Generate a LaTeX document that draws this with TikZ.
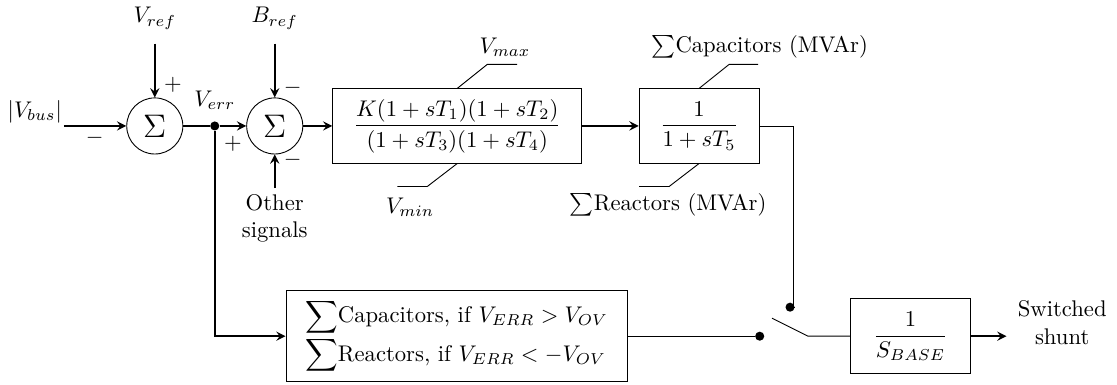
\documentclass[tikz,border=0pt]{standalone}
\usepackage{amsmath,amssymb}
\usepackage{tikz}
\usetikzlibrary{arrows.meta,positioning,calc}

\begin{document}
\begin{tikzpicture}[
    sumnode/.style={
        draw=black,
        circle,
        minimum size=0.87cm,
        inner sep=0pt,
        font=\Large,
    },
    blockbox/.style={
        draw=black,
        fill=white,
        minimum height=1.15cm,
        align=center,
        inner sep=2pt,
    },
    sigarrow/.style={
        ->,
        >=stealth,
        thick,
        color=black,
    },
    junctiondot/.style={
        circle,
        fill=black,
        inner sep=0pt,
        minimum size=4pt,
    },
]
\useasboundingbox (0,-4.016) rectangle (17.32,1.953);

% summing junctions
\node[sumnode] (sumv) at (2.40,0) {$\Sigma$};
\node[sumnode] (sumb) at (4.26,0) {$\Sigma$};
\node[junctiondot] (jn) at (3.33,0) {};

% inputs
\node (vbus) at (0.54,0.22) {$|V_{bus}|$};
\coordinate (vbusin) at (0.99,0);
\node (vref) at (2.40,1.67) {$V_{ref}$};
\node (bref) at (4.26,1.67) {$B_{ref}$};
\node[align=center] (other) at (4.26,-1.43) {Other\\signals};

% signs
\node at (1.47,-0.19) {$-$};
\node at (2.68,0.64) {$+$};
\node at (3.33,0.40) {$V_{err}$};
\node at (4.54,0.59) {$-$};
\node at (3.61,-0.28) {$+$};
\node at (4.54,-0.53) {$-$};

% blocks
\node[blockbox,minimum width=3.86cm] (lead) at (7.09,0) {%
    $\dfrac{K(1+sT_1)(1+sT_2)}{(1+sT_3)(1+sT_4)}$};
\node[blockbox,minimum width=1.86cm] (lag) at (10.84,0) {%
    $\dfrac{1}{1+sT_5}$};
\node[blockbox,minimum width=5.29cm,minimum height=1.41cm,align=left] (disc) at (7.08,-3.26) {%
    $\displaystyle\sum$Capacitors, if $V_{ERR} > V_{OV}$\\
    $\displaystyle\sum$Reactors, if $V_{ERR} < -V_{OV}$};
\node[blockbox,minimum width=1.86cm,minimum height=1.16cm] (base) at (14.12,-3.26) {%
    $\dfrac{1}{S_{BASE}}$};
\node[align=center] (shunt) at (16.47,-3.05) {Switched\\shunt};

% limits
\node (vmax) at (7.83,1.22) {$V_{max}$};
\node (vmin) at (6.36,-1.26) {$V_{min}$};
\node (capmax) at (11.78,1.22) {$\sum$Capacitors (MVAr)};
\node (reamin) at (10.36,-1.22) {$\sum$Reactors (MVAr)};
\draw (lead.north) -- ++(0.465,0.372) -- ++(0.465,0);
\draw (lead.south) -- ++(-0.465,-0.357) -- ++(-0.465,0);
\draw (lag.north) -- ++(0.465,0.372) -- ++(0.45,0);
\draw (lag.south) -- ++(-0.465,-0.357) -- ++(-0.465,0);

% switch
\node[junctiondot] (swin) at (11.78,-3.26) {};
\node[junctiondot] (swtop) at (12.25,-2.81) {};
\coordinate (bladetop) at (11.97,-2.98);
\coordinate (bladeend) at (12.53,-3.26);

% connectors
\draw[sigarrow] (vbusin) -- (sumv);
\draw[sigarrow] (vref.south) ++(0,-0.1) -- (sumv.north);
\draw[sigarrow] (bref.south) ++(0,-0.1) -- (sumb.north);
\draw[sigarrow] (other.north) ++(0,-0.03) -- (sumb.south);
\draw[thick] (sumv) -- (jn);
\draw[sigarrow] (jn) -- (sumb);
\draw[sigarrow] (sumb) -- (lead);
\draw[sigarrow] (lead) -- (lag);
\draw[sigarrow] (jn) |- (disc.west);
\draw (lag.east) -- ++(0.52,0) |- (swtop);
\draw (disc.east) -- (swin);
\draw (bladetop) -- (bladeend) -- (base.west);
\draw[sigarrow] (base.east) -- ++(0.55,0);
\end{tikzpicture}
\end{document}
